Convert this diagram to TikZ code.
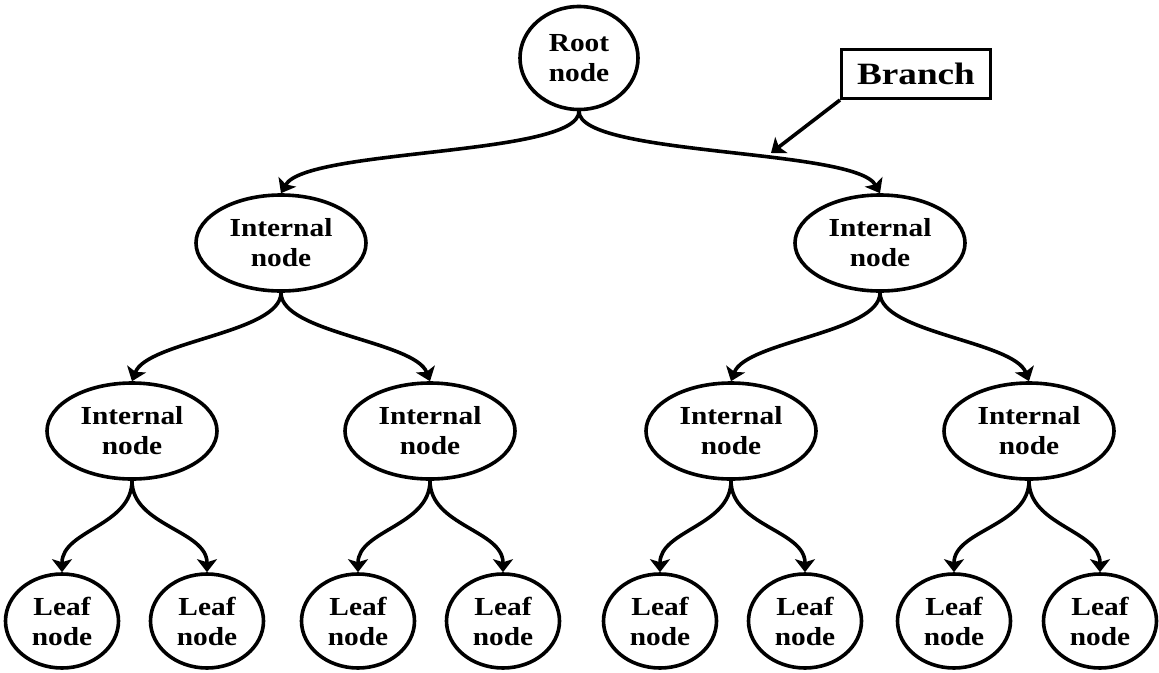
\documentclass[tikz,border=0pt]{standalone}
\usepackage{fontspec}
\setmainfont{Liberation Serif}[FakeStretch=1.13]
\newfontfamily\branchfont{Liberation Serif}[FakeStretch=1.2]
\usetikzlibrary{shapes.geometric,arrows.meta}
\begin{document}
\begin{tikzpicture}[x=1pt,y=-1pt,
  tnode/.style={ellipse,draw,line width=3.6pt,inner sep=0pt,align=center,
    font=\fontsize{26}{30}\selectfont\bfseries},
  rootn/.style={tnode,minimum width=118pt,minimum height=103pt},
  intn/.style={tnode,minimum width=170pt,minimum height=96pt},
  leafn/.style={tnode,minimum width=113pt,minimum height=94pt},
  arr/.style={line width=3.6pt,-{Stealth[length=13pt,width=20pt,inset=3pt]}},
  lbl/.style={draw,line width=3pt,inner sep=0pt,minimum width=149pt,minimum height=49pt,
    font=\fontsize{31}{36}\branchfont\bfseries}]
\useasboundingbox (0,0) rectangle (1159,672);
\node[rootn] (root) at (579,58) {Root\\node};
\node[intn] (a) at (281,243) {Internal\\node};
\node[intn] (b) at (880,243) {Internal\\node};
\node[intn] (a1) at (132,431) {Internal\\node};
\node[intn] (a2) at (430,431) {Internal\\node};
\node[intn] (b1) at (731,431) {Internal\\node};
\node[intn] (b2) at (1029,431) {Internal\\node};
\node[leafn] (l1) at (62,621) {Leaf\\node};
\node[leafn] (l2) at (207,621) {Leaf\\node};
\node[leafn] (l3) at (358,621) {Leaf\\node};
\node[leafn] (l4) at (503,621) {Leaf\\node};
\node[leafn] (l5) at (660,621) {Leaf\\node};
\node[leafn] (l6) at (805,621) {Leaf\\node};
\node[leafn] (l7) at (954,621) {Leaf\\node};
\node[leafn] (l8) at (1100,621) {Leaf\\node};
\node[lbl] (br) at (916,74) {Branch};
\coordinate (bt) at (771,153);
% root edges
\draw[arr] (root.south) .. controls +(0,45) and +(25,-45) .. (a.north);
\draw[arr] (root.south) .. controls +(0,45) and +(-25,-45) .. (b.north);
% level 1 edges
\foreach \p/\c in {a/a1,b/b1}
  \draw[arr] (\p.south) .. controls +(0,40) and +(15,-40) .. (\c.north);
\foreach \p/\c in {a/a2,b/b2}
  \draw[arr] (\p.south) .. controls +(0,40) and +(-15,-40) .. (\c.north);
% level 2 edges
\foreach \p/\c in {a1/l1,a2/l3,b1/l5,b2/l7}
  \draw[arr] (\p.south) .. controls +(0,45) and +(0,-42) .. (\c.north);
\foreach \p/\c in {a1/l2,a2/l4,b1/l6,b2/l8}
  \draw[arr] (\p.south) .. controls +(0,45) and +(0,-42) .. (\c.north);
% branch label
\draw[arr] (br.south west) -- (bt);
\end{tikzpicture}
\end{document}
